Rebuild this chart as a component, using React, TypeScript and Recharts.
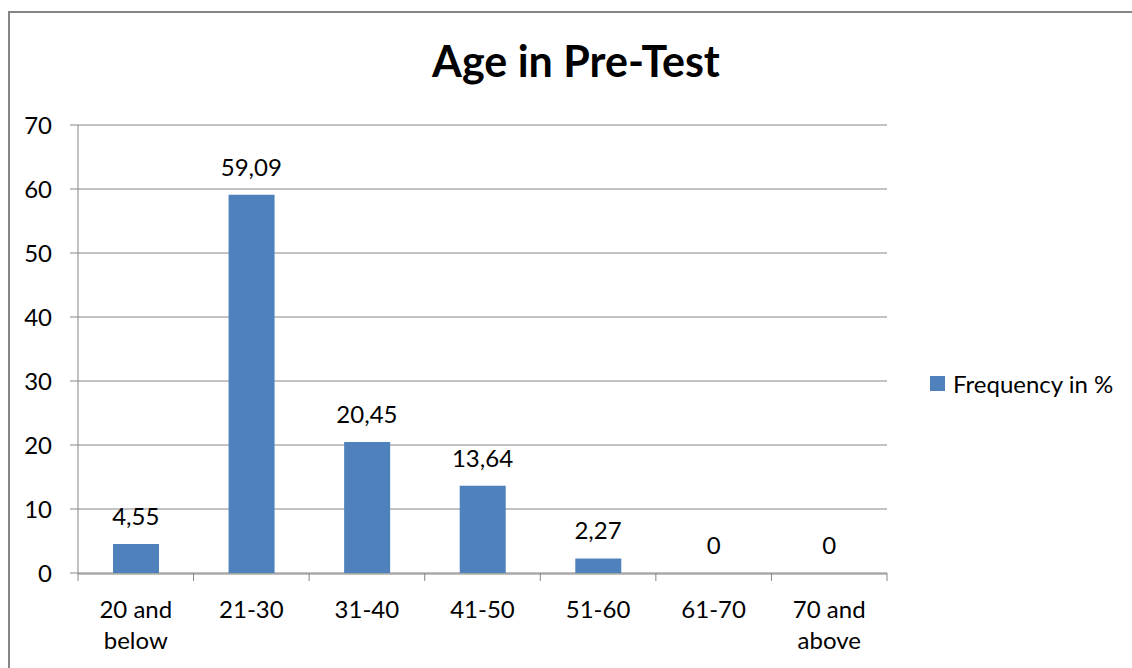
import React from "react";
import { ComposedChart, Bar, Line, XAxis, YAxis, CartesianGrid, LabelList } from "recharts";

const categories = ["20 and\nbelow", "21-30", "31-40", "41-50", "51-60", "61-70", "70 and\nabove"];
const frequency = [4.55, 59.09, 20.45, 13.64, 2.27, 0, 0];
const yTicks = [0, 10, 20, 30, 40, 50, 60, 70];
const edgeTicks = [0, 1, 2, 3, 4, 5, 6, 7];
const seriesName = "Frequency in %";
const title = "Age in Pre-Test";

const data = categories.map((c, i) => ({ cat: c, value: frequency[i], pos: i + 0.5 }));

const FONT = "Lato, 'Open Sans', sans-serif";
const GRAY = "#868686";
const BLUE = "#4F81BD";

const CatTick = (props: any) => {
  const { x, y, payload } = props;
  const lines = String(payload.value).split("\n");
  return (
    <g>
      {lines.map((l, i) => (
        <text key={i} x={x} y={y + 36 + i * 31} textAnchor="middle" fontSize={24} fontFamily={FONT} fill="#000">
          {l}
        </text>
      ))}
    </g>
  );
};

const EmptyTick = () => <g />;

export default function App() {
  return (
    <div style={{ position: "absolute", left: 0, top: 0, width: 1132, height: 668, background: "#fff", overflow: "hidden" }}>
      <div
        style={{
          position: "absolute",
          left: 8,
          top: 11,
          width: 1140,
          height: 700,
          border: `2px solid ${GRAY}`,
          boxSizing: "border-box",
        }}
      />
      <div
        style={{
          position: "absolute",
          left: 0,
          width: 1152,
          top: 36,
          textAlign: "center",
          fontFamily: FONT,
          fontWeight: "bold",
          fontSize: 43,
          color: "#000",
          lineHeight: "50px",
          whiteSpace: "nowrap",
        }}
      >
        {title}
      </div>
      <div
        style={{
          position: "absolute",
          left: 930,
          top: 371,
          height: 25,
          display: "flex",
          alignItems: "center",
          fontFamily: FONT,
          fontSize: 24,
          color: "#000",
          whiteSpace: "nowrap",
        }}
      >
        <span style={{ display: "inline-block", width: 15, height: 15, background: BLUE, marginRight: 8 }} />
        <span>{seriesName}</span>
      </div>
      <div style={{ position: "absolute", left: 0, top: 0 }}>
        <ComposedChart width={1132} height={668} data={data} margin={{ top: 125, right: 245, bottom: 15, left: 18 }}>
          <CartesianGrid horizontal={true} vertical={false} stroke={GRAY} strokeWidth={1} />
          <XAxis
            dataKey="cat"
            xAxisId="b"
            height={79}
            tickLine={false}
            axisLine={{ stroke: GRAY }}
            tick={<CatTick />}
            interval={0}
          />
          <XAxis
            xAxisId="a"
            type="number"
            dataKey="pos"
            domain={[0, 7]}
            ticks={edgeTicks}
            height={1}
            axisLine={false}
            tickLine={{ stroke: GRAY }}
            tickSize={8}
            tick={<EmptyTick />}
            interval={0}
            allowDataOverflow={true}
          />
          <YAxis
            width={60}
            domain={[0, 70]}
            ticks={yTicks}
            tickSize={8}
            tickMargin={18}
            tickLine={{ stroke: GRAY }}
            axisLine={{ stroke: GRAY }}
            tick={{ fontSize: 24, fontFamily: FONT, fill: "#000" }}
          />
          <Bar dataKey="value" xAxisId="b" name={seriesName} fill={BLUE} barSize={46} isAnimationActive={false} />
          <Line
            dataKey="value"
            xAxisId="b"
            stroke="none"
            dot={false}
            activeDot={false}
            legendType="none"
            isAnimationActive={false}
          >
            <LabelList
              dataKey="value"
              position="top"
              offset={19}
              fontSize={24}
              fontFamily={FONT}
              fill="#000"
              formatter={(v: any) => String(v).replace(".", ",")}
            />
          </Line>
        </ComposedChart>
      </div>
    </div>
  );
}
